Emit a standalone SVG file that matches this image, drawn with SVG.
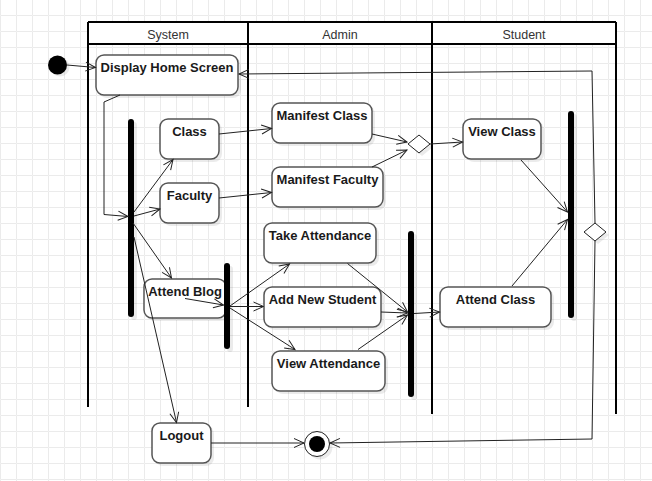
<svg xmlns="http://www.w3.org/2000/svg" width="652" height="481" viewBox="0 0 652 481">
<defs>
<pattern id="grid" patternUnits="userSpaceOnUse" x="0" y="15" width="16" height="16">
<path d="M16 0.5 H0.5 V16" fill="none" stroke="#ebebeb" stroke-width="1"/>
</pattern>
<marker id="arr" markerUnits="userSpaceOnUse" markerWidth="12" markerHeight="10" refX="10" refY="4.5" orient="auto" overflow="visible">
<path d="M0,0 L10,4.5 L0,9" fill="none" stroke="#222" stroke-width="1"/>
</marker>
</defs>
<style>
.node{fill:#fff;stroke:#555;stroke-width:1.5}
.shadow{fill:#000;opacity:0.08}
.lbl{font-family:"Liberation Sans",Arial,sans-serif;font-size:13px;font-weight:bold;fill:#1a1a1a;text-anchor:middle}
.hdr{font-family:"Liberation Sans",Arial,sans-serif;font-size:12.5px;fill:#333;text-anchor:middle}
.lane{stroke:#000;stroke-width:2;fill:none}
.bar{fill:#000}
.edge{fill:none;stroke:#222;stroke-width:1;marker-end:url(#arr)}
</style>
<rect width="652" height="481" fill="#fff"/>
<rect width="652" height="481" fill="url(#grid)"/>

<g id="swimlanes">
<rect x="88" y="22" width="528" height="22" fill="#fff" stroke="none"/>
<path class="lane" d="M88 22 H616 M88 44 H616 M88 22 V407 M248 22 V407 M432 22 V414 M616 22 V414"/>
<text class="hdr" x="168" y="39">System</text>
<text class="hdr" x="340" y="39">Admin</text>
<text class="hdr" x="524" y="39">Student</text>
</g>

<g id="start">
<circle cx="60" cy="67" r="9.5" class="shadow"/>
<circle cx="57.5" cy="65" r="9.5" fill="#000"/>
</g>

<g id="display-home">
<rect x="99" y="58" width="142" height="40" rx="8" class="shadow"/>
<rect x="96" y="55" width="142" height="40" rx="8" class="node"/>
<text class="lbl" x="167" y="72">Display Home Screen</text>
</g>

<g id="fork1">
<rect x="131" y="122" width="6" height="198" rx="3" class="shadow"/>
<rect x="128" y="119" width="6" height="198" rx="3" class="bar"/>
</g>

<g id="class">
<rect x="163" y="122" width="59" height="40" rx="8" class="shadow"/>
<rect x="160" y="119" width="59" height="40" rx="8" class="node"/>
<text class="lbl" x="189.5" y="136">Class</text>
</g>

<g id="faculty">
<rect x="163" y="186" width="59" height="40" rx="8" class="shadow"/>
<rect x="160" y="183" width="59" height="40" rx="8" class="node"/>
<text class="lbl" x="189.5" y="200">Faculty</text>
</g>

<g id="attend-blog">
<rect x="147" y="282" width="82" height="39" rx="8" class="shadow"/>
<rect x="144" y="279" width="82" height="39" rx="8" class="node"/>
<text class="lbl" x="185" y="296">Attend Blog</text>
</g>

<g id="fork2">
<rect x="227" y="266" width="6" height="86" rx="3" class="shadow"/>
<rect x="224" y="263" width="6" height="86" rx="3" class="bar"/>
</g>

<g id="logout">
<rect x="155" y="426" width="59" height="40" rx="8" class="shadow"/>
<rect x="152" y="423" width="59" height="40" rx="8" class="node"/>
<text class="lbl" x="181.5" y="440">Logout</text>
</g>

<g id="final">
<circle cx="320" cy="447" r="12.5" class="shadow"/>
<circle cx="317" cy="444" r="12.5" fill="#fff" stroke="#222" stroke-width="1"/>
<circle cx="317" cy="444" r="8" fill="#000"/>
</g>

<g id="manifest-class">
<rect x="275" y="106" width="100" height="40" rx="8" class="shadow"/>
<rect x="272" y="103" width="100" height="40" rx="8" class="node"/>
<text class="lbl" x="322" y="120">Manifest Class</text>
</g>

<g id="manifest-faculty">
<rect x="275" y="170" width="111" height="40" rx="8" class="shadow"/>
<rect x="272" y="167" width="111" height="40" rx="8" class="node"/>
<text class="lbl" x="327.5" y="184">Manifest Faculty</text>
</g>

<g id="take-attendance">
<rect x="267" y="226" width="112" height="40" rx="8" class="shadow"/>
<rect x="264" y="223" width="112" height="40" rx="8" class="node"/>
<text class="lbl" x="320" y="240">Take Attendance</text>
</g>

<g id="add-new-student">
<rect x="267" y="290" width="117" height="40" rx="8" class="shadow"/>
<rect x="264" y="287" width="117" height="40" rx="8" class="node"/>
<text class="lbl" x="322.5" y="304">Add New Student</text>
</g>

<g id="view-attendance">
<rect x="275" y="354" width="113" height="40" rx="8" class="shadow"/>
<rect x="272" y="351" width="113" height="40" rx="8" class="node"/>
<text class="lbl" x="328.5" y="368">View Attendance</text>
</g>

<g id="fork3">
<rect x="411" y="234" width="6" height="166" rx="3" class="shadow"/>
<rect x="408" y="231" width="6" height="166" rx="3" class="bar"/>
</g>

<g id="decision1">
<path d="M422 138 L433 147 L422 156 L411 147 Z" class="shadow"/>
<path d="M419 135 L430 144 L419 153 L408 144 Z" fill="#fff" stroke="#222" stroke-width="1"/>
</g>

<g id="view-class">
<rect x="466" y="122" width="78" height="40" rx="8" class="shadow"/>
<rect x="463" y="119" width="78" height="40" rx="8" class="node"/>
<text class="lbl" x="502" y="136">View Class</text>
</g>

<g id="attend-class">
<rect x="443" y="290" width="111" height="40" rx="8" class="shadow"/>
<rect x="440" y="287" width="111" height="40" rx="8" class="node"/>
<text class="lbl" x="495.5" y="304">Attend Class</text>
</g>

<g id="fork4">
<rect x="571" y="114" width="6" height="207" rx="3" class="shadow"/>
<rect x="568" y="111" width="6" height="207" rx="3" class="bar"/>
</g>

<g id="decision2">
<path d="M598 226 L609 235 L598 244 L587 235 Z" class="shadow"/>
<path d="M595 223 L606 232 L595 241 L584 232 Z" fill="#fff" stroke="#222" stroke-width="1"/>
</g>

<g id="connectors">
<path class="edge" d="M67 65 L95.5 67.5"/>
<path class="edge" d="M120 95 L104 102 L104 214.5 L128 216.5"/>
<path class="edge" d="M134 212 L173 159.5"/>
<path class="edge" d="M134 216 L160 209"/>
<path class="edge" d="M133 223 L171.5 278"/>
<path class="edge" d="M134 237 L176.5 422.5"/>
<path class="edge" d="M219 134 L271.5 128.5"/>
<path class="edge" d="M219 198 L271.5 192.5"/>
<path class="edge" d="M372 134 L407 142"/>
<path class="edge" d="M372 167 L407 150"/>
<path class="edge" d="M430 144 L462.5 142"/>
<path class="edge" d="M521 160 L567.5 212"/>
<path class="edge" d="M512 286 L567.5 219.5"/>
<path class="edge" d="M595 223 L592 71 L239 74"/>
<path class="edge" d="M595 241 L592 439 L330 443"/>
<path class="edge" d="M211 443 L304 443"/>
<path class="edge" d="M185 298.5 L223.5 305"/>
<path class="edge" d="M230 306 L289.5 264"/>
<path class="edge" d="M230 306.5 L263.5 306.5"/>
<path class="edge" d="M230 308 L295 349.5"/>
<path class="edge" d="M347.5 263.5 L407.5 312"/>
<path class="edge" d="M381 312 L407.5 313"/>
<path class="edge" d="M358 349.5 L407.5 315"/>
<path class="edge" d="M414 313.5 L439.5 312"/>
</g>
</svg>
